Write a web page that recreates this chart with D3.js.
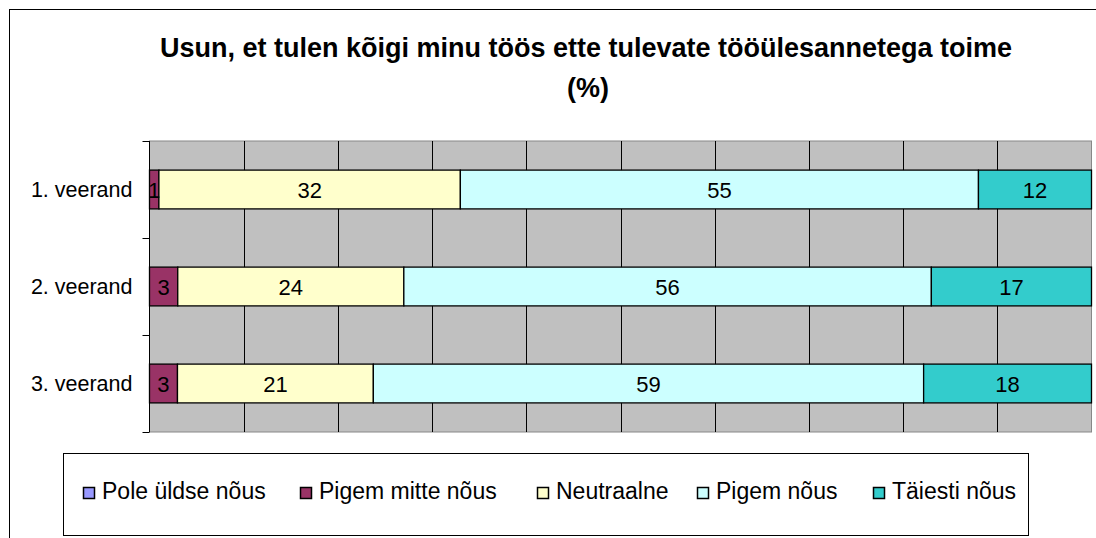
<!DOCTYPE html>
<meta charset="utf-8">
<head>
<style type="text/css">
  body { margin: 0; background: #fff; }
  text { font-family: "Liberation Sans", Arial, sans-serif; fill: #000; }
  .title { font-size: 27px; font-weight: bold; }
  .lbl { font-size: 22px; }
  .cat { font-size: 21.5px; }
  .leg { font-size: 23px; }
</style>
</head>
<script src="https://cdnjs.cloudflare.com/ajax/libs/d3/7.8.5/d3.min.js"></script>
<body>
<div id="vis"></div>
<script>
var width = 1096,
    height = 538;

// data
var categories = ["1. veerand", "2. veerand", "3. veerand"];
var seriesNames = ["Pole üldse nõus", "Pigem mitte nõus", "Neutraalne", "Pigem nõus", "Täiesti nõus"];
var seriesColors = ["#9999FF", "#993366", "#FFFFCC", "#CCFFFF", "#33CCCC"];
var poleYldse   = [0, 0, 0];
var pigemMitte  = [1, 3, 3];
var neutraalne  = [32, 24, 21];
var pigemNous   = [55, 56, 59];
var taiestiNous = [12, 17, 18];
var xTicks = [0, 0.1, 0.2, 0.3, 0.4, 0.5, 0.6, 0.7, 0.8, 0.9, 1];

var allSeries = [poleYldse, pigemMitte, neutraalne, pigemNous, taiestiNous];
var rows = categories.map(function(c, i) {
  var r = {cat: c};
  seriesNames.forEach(function(s, j) { r[s] = allSeries[j][i]; });
  return r;
});

var svg = d3.select("#vis").append("svg")
    .attr("width", width)
    .attr("height", height);

// outer chart border
svg.append("rect")
    .attr("x", 9.5).attr("y", 9.5)
    .attr("width", 1100).attr("height", 540)
    .attr("fill", "#fff")
    .attr("stroke", "#000");

// title
svg.append("text").attr("class", "title")
    .attr("x", 586).attr("y", 57)
    .attr("text-anchor", "middle")
    .text("Usun, et tulen kõigi minu töös ette tulevate tööülesannetega toime");
svg.append("text").attr("class", "title")
    .attr("x", 588).attr("y", 97)
    .attr("text-anchor", "middle")
    .text("(%)");

var plot = {left: 149.5, right: 1091.5, top: 141, bottom: 432};

var x = d3.scaleLinear().domain([0, 1]).range([plot.left, plot.right]);
var y = d3.scaleBand().domain(categories)
    .range([plot.top, plot.bottom])
    .paddingInner(0.6).paddingOuter(0.3);

// plot background
svg.append("rect")
    .attr("x", plot.left).attr("y", plot.top)
    .attr("width", plot.right - plot.left).attr("height", plot.bottom - plot.top)
    .attr("fill", "#C0C0C0")
    .attr("stroke", "#888");

// vertical gridlines
svg.append("g").selectAll("line")
    .data(xTicks.slice(1, -1))
    .enter().append("line")
    .attr("x1", function(d) { return Math.round(x(d)) + 0.5; })
    .attr("x2", function(d) { return Math.round(x(d)) + 0.5; })
    .attr("y1", plot.top).attr("y2", plot.bottom)
    .attr("stroke", "#000");

// stacked 100% bars
var stack = d3.stack().keys(seriesNames).offset(d3.stackOffsetExpand);
var layers = stack(rows);

var layer = svg.append("g").selectAll("g")
    .data(layers)
    .enter().append("g")
    .attr("fill", function(d, i) { return seriesColors[i]; });

layer.selectAll("rect")
    .data(function(d) { return d.filter(function(p) { return p[1] - p[0] > 0; }); })
    .enter().append("rect")
    .attr("x", function(d) { return x(d[0]); })
    .attr("width", function(d) { return x(d[1]) - x(d[0]); })
    .attr("y", function(d) { return y(d.data.cat); })
    .attr("height", y.bandwidth())
    .attr("stroke", "#000")
    .attr("stroke-width", 1.3);

// value labels
layers.forEach(function(l) {
  svg.append("g").selectAll("text")
    .data(l.filter(function(p) { return p[1] - p[0] > 0; }))
    .enter().append("text").attr("class", "lbl")
    .attr("x", function(d) { return (x(d[0]) + x(d[1])) / 2; })
    .attr("y", function(d) { return y(d.data.cat) + y.bandwidth() / 2 + 8; })
    .attr("text-anchor", "middle")
    .text(function(d) { return d.data[l.key]; });
});

// left axis
var yAxis = svg.append("g")
    .attr("transform", "translate(" + plot.left + ",0)");
yAxis.append("line")
    .attr("x1", 0).attr("x2", 0)
    .attr("y1", plot.top).attr("y2", plot.bottom)
    .attr("stroke", "#000");
var bounds = [plot.top].concat(categories.map(function(c) { return y(c) + y.bandwidth() + y.step() * y.paddingInner() / 2; }));
bounds[bounds.length - 1] = plot.bottom;
yAxis.selectAll(".tick")
    .data(bounds)
    .enter().append("line")
    .attr("x1", -7).attr("x2", 0)
    .attr("y1", function(d) { return Math.round(d) + 0.5; })
    .attr("y2", function(d) { return Math.round(d) + 0.5; })
    .attr("stroke", "#000");
yAxis.selectAll("text")
    .data(categories)
    .enter().append("text").attr("class", "cat")
    .attr("x", -17)
    .attr("y", function(d) { return y(d) + y.bandwidth() / 2 + 7.5; })
    .attr("text-anchor", "end")
    .text(function(d) { return d; });

// legend
var legend = svg.append("g");
legend.append("rect")
    .attr("x", 63.5).attr("y", 453.5)
    .attr("width", 965).attr("height", 82)
    .attr("fill", "#fff")
    .attr("stroke", "#000");
var legendX = [83, 300, 537, 697, 873];
var item = legend.selectAll(".item")
    .data(seriesNames)
    .enter().append("g")
    .attr("transform", function(d, i) { return "translate(" + legendX[i] + ",487)"; });
item.append("rect")
    .attr("x", 0.5).attr("y", 0.5)
    .attr("width", 11).attr("height", 11)
    .attr("fill", function(d, i) { return seriesColors[i]; })
    .attr("stroke", "#000")
    .attr("stroke-width", 1.5);
item.append("text").attr("class", "leg")
    .attr("x", 19).attr("y", 12)
    .text(function(d) { return d; });
</script>
</body>
